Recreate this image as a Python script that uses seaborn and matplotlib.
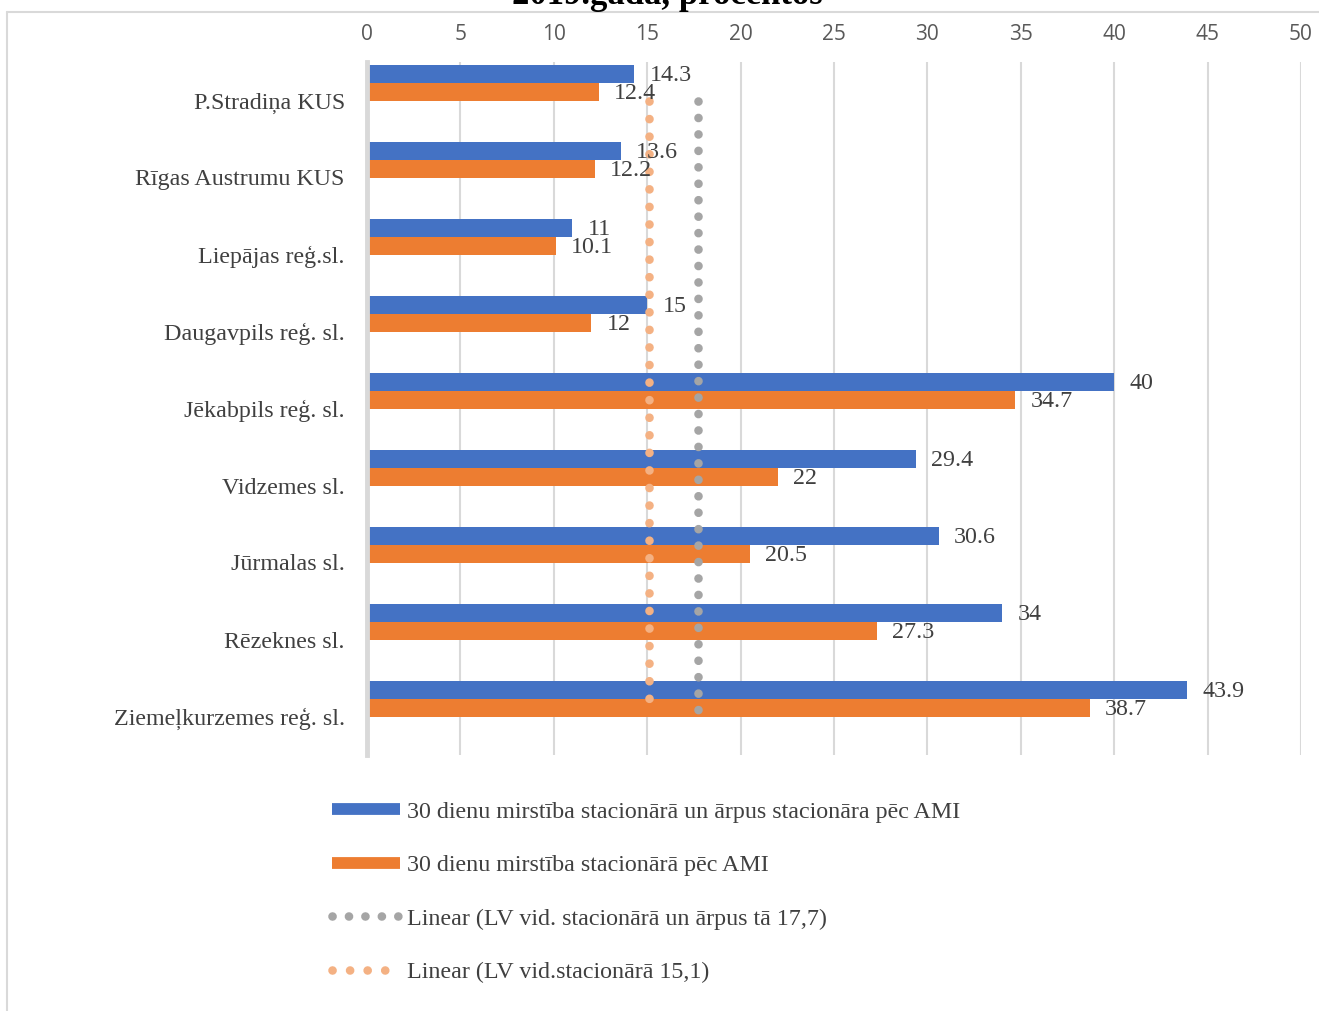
import matplotlib
matplotlib.use('Agg')
import matplotlib.pyplot as plt
import seaborn as sns
import pandas as pd
from matplotlib.lines import Line2D

# ---- data ----
categories = ["P.Stradiņa KUS", "Rīgas Austrumu KUS", "Liepājas reģ.sl.",
              "Daugavpils reģ. sl.", "Jēkabpils reģ. sl.", "Vidzemes sl.",
              "Jūrmalas sl.", "Rēzeknes sl.", "Ziemeļkurzemes reģ. sl."]
total_mortality = [14.3, 13.6, 11, 15, 40, 29.4, 30.6, 34, 43.9]
hospital_mortality = [12.4, 12.2, 10.1, 12, 34.7, 22, 20.5, 27.3, 38.7]
avg_total = 17.7
avg_hospital = 15.1
series_names = ["30 dienu mirstība stacionārā un ārpus stacionāra pēc AMI",
                "30 dienu mirstība stacionārā pēc AMI"]
trend_names = ["Linear (LV vid. stacionārā un ārpus tā 17,7)",
               "Linear (LV vid.stacionārā 15,1)"]
dummy_series = ["LV vid. stacionārā un ārpus tā", "LV vid.stacionārā"]
x_ticks = [0, 5, 10, 15, 20, 25, 30, 35, 40, 45, 50]
title_text = "2019.gada, procentos"

BLUE = "#4472C4"
ORANGE = "#ED7D31"
GRAY = "#A5A5A5"
LORANGE = "#F4B183"
FS = 17.3

rows = []
for c, a, b in zip(categories, total_mortality, hospital_mortality):
    rows.append((c, series_names[0], a))
    rows.append((c, series_names[1], b))
    rows.append((c, dummy_series[0], 0.0))
    rows.append((c, dummy_series[1], 0.0))
df = pd.DataFrame(rows, columns=["category", "series", "value"])

sns.set_theme(style="white")
plt.rcParams['font.family'] = ['Liberation Serif', 'DejaVu Serif']

fig = plt.figure(figsize=(13.19, 10.11), dpi=100)
ax = fig.add_axes([367/1319, 1-755/1011, (1301-367)/1319, (755-62)/1011])

sns.barplot(data=df, x="value", y="category", hue="series",
            hue_order=series_names + dummy_series, order=categories,
            palette=[BLUE, ORANGE, "#FFFFFF", "#FFFFFF"], orient="h",
            width=0.935, dodge=True, legend=False, saturation=1,
            linewidth=0, ax=ax, errorbar=None)

# data labels
for cont, vals in zip(ax.containers[:2], [total_mortality, hospital_mortality]):
    for patch, v in zip(cont.patches, vals):
        ax.annotate(f"{v:g}", (patch.get_x() + patch.get_width(),
                               patch.get_y() + patch.get_height() / 2),
                    xytext=(11, -1.5), textcoords="offset points",
                    ha="left", va="center", fontsize=FS, color="#404040",
                    family="Liberation Serif", zorder=7)

# average (trend) lines
LW = 6.2
y_start, y_end = 0.0, 7.98
ax.plot([avg_hospital, avg_hospital], [y_start, y_end], color=LORANGE, lw=LW,
        linestyle=(0, (0.01, 2.03)), dash_capstyle="round", zorder=5)
ax.plot([avg_total, avg_total], [y_start, y_end], color=GRAY, lw=LW,
        linestyle=(0, (0.01, 1.9)), dash_capstyle="round", zorder=5)

ax.set_xlim(0, 50)
ax.set_ylim(len(categories) - 0.5, -0.5)
ax.set_xticks(x_ticks)
ax.xaxis.tick_top()
ax.tick_params(axis="x", length=0, pad=12, labelsize=15, labelcolor="#595959")
for lab in ax.get_xticklabels():
    lab.set_family(["Open Sans", "DejaVu Sans"])
ax.tick_params(axis="y", length=0, pad=16, labelsize=FS, labelcolor="#404040")
ax.set_xlabel("")
ax.set_ylabel("")
ax.grid(axis="x", color="#D9D9D9", lw=1.5, zorder=0)
ax.set_axisbelow(True)
for s in ["top", "right", "bottom"]:
    ax.spines[s].set_visible(False)
ax.spines["left"].set_color("#D9D9D9")
ax.spines["left"].set_linewidth(3.5)
ax.spines["left"].set_zorder(6)

# legend
handles = [
    Line2D([], [], color=BLUE, lw=8.5, solid_capstyle="butt"),
    Line2D([], [], color=ORANGE, lw=8.5, solid_capstyle="butt"),
    Line2D([], [], color=GRAY, lw=LW, linestyle=(0, (0.01, 1.9)), dash_capstyle="round"),
    Line2D([], [], color=LORANGE, lw=LW, linestyle=(0, (0.01, 2.03)), dash_capstyle="round"),
]
fig.legend(handles, series_names + trend_names, loc="upper left",
           bbox_to_anchor=(332/1319, 1-801/1011), frameon=False,
           fontsize=FS, labelcolor="#404040", handlelength=2.83,
           handletextpad=0.28, labelspacing=1.32, borderpad=0, borderaxespad=0)

# chart frame and clipped title
fig.add_artist(Line2D([7/1319, 1.0], [1-12/1011, 1-12/1011], color="#D9D9D9",
                      lw=1.5, transform=fig.transFigure))
fig.add_artist(Line2D([7/1319, 7/1319], [0, 1-12/1011], color="#D9D9D9",
                      lw=1.5, transform=fig.transFigure))
fig.text(667/1319, 1-3.5/1011, title_text, ha="center", va="baseline",
         fontsize=25, fontweight="bold", color="#000000")

fig.savefig("out.png", dpi=100)
